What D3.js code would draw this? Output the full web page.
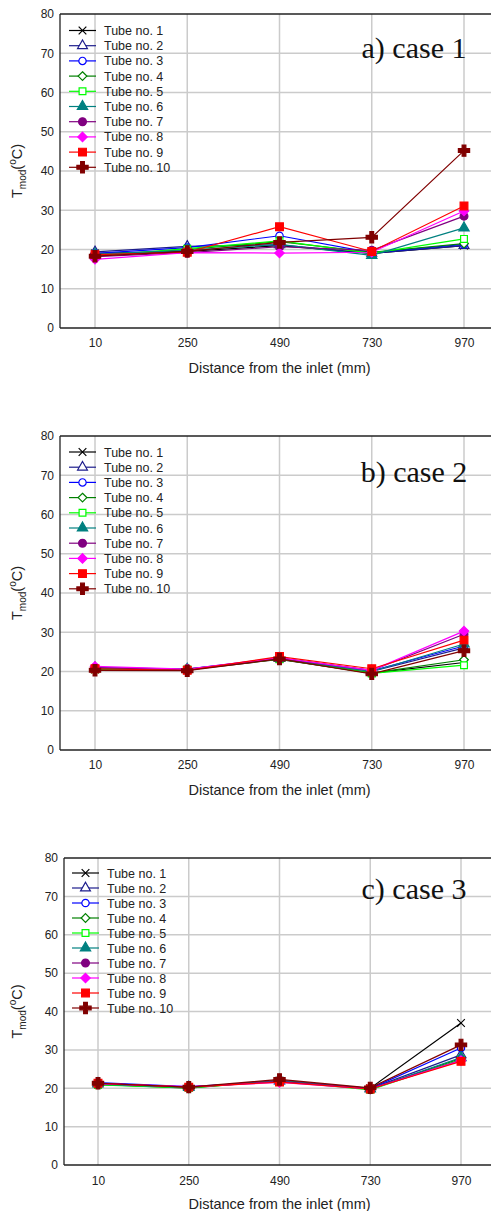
<!DOCTYPE html>
<html><head><meta charset="utf-8">
<script src="https://cdn.jsdelivr.net/npm/d3@7"></script>
<style>body{margin:0;background:#fff}svg{display:block}</style>
</head><body>
<svg id="c" width="491" height="1211"></svg>
<script>
const distances = [10, 250, 490, 730, 970];
const yTicks = [0, 10, 20, 30, 40, 50, 60, 70, 80];
const tubes = ["Tube no. 1","Tube no. 2","Tube no. 3","Tube no. 4","Tube no. 5","Tube no. 6","Tube no. 7","Tube no. 8","Tube no. 9","Tube no. 10"];
const caseTitles = ["a) case 1", "b) case 2", "c) case 3"];

const case1 = [
  [19.0, 19.5, 21.0, 19.0, 21.0],
  [19.4, 20.8, 21.2, 19.0, 21.0],
  [19.0, 20.5, 23.5, 19.2, 21.3],
  [18.5, 20.0, 22.0, 19.3, 21.5],
  [18.3, 20.2, 22.2, 19.0, 22.7],
  [18.8, 19.8, 21.3, 18.5, 25.5],
  [18.2, 19.2, 20.7, 19.8, 28.5],
  [17.5, 19.2, 19.1, 19.3, 29.8],
  [18.7, 19.3, 25.8, 19.5, 31.1],
  [18.3, 19.5, 21.8, 23.1, 45.2]
];
const case2 = [
  [20.5, 20.4, 23.1, 19.6, 22.3],
  [20.8, 20.5, 23.3, 20.0, 26.0],
  [21.0, 20.6, 23.4, 20.2, 26.5],
  [20.8, 20.6, 23.2, 19.6, 23.0],
  [20.6, 20.5, 23.2, 19.5, 21.6],
  [20.9, 20.6, 23.3, 20.0, 27.0],
  [21.0, 20.5, 23.4, 20.3, 29.5],
  [21.3, 20.6, 23.5, 20.3, 30.3],
  [20.7, 20.3, 23.8, 20.7, 28.0],
  [20.3, 20.2, 23.2, 19.4, 25.3]
];
const case3 = [
  [21.0, 20.2, 22.0, 20.0, 37.0],
  [21.3, 20.3, 21.9, 19.9, 28.7],
  [21.5, 20.4, 21.8, 19.9, 30.5],
  [21.0, 20.0, 22.0, 19.7, 27.8],
  [20.9, 20.1, 21.9, 19.6, 27.5],
  [21.1, 20.2, 22.0, 19.8, 28.0],
  [21.2, 20.3, 21.8, 19.9, 27.3],
  [21.2, 20.4, 21.5, 19.8, 27.2],
  [21.3, 20.3, 21.6, 19.8, 27.0],
  [21.3, 20.3, 22.3, 20.1, 31.3]
];
const cases = [case1, case2, case3];

// styles
const colors = ["#000000","#1c1c8c","#0000ff","#008000","#00ff00","#008080","#800080","#ff00ff","#ff0000","#800000"];
const diamond = d3.symbolDiamond2 || d3.symbolDiamond;
const timesSym = d3.symbolTimes || d3.symbolX || d3.symbolCross;
const markers = [
  {t: timesSym, s: 40, fill: false},
  {t: d3.symbolTriangle, s: 42, fill: false},
  {t: d3.symbolCircle, s: 42, fill: false},
  {t: diamond, s: 48, fill: false},
  {t: d3.symbolSquare, s: 46, fill: false},
  {t: d3.symbolTriangle, s: 46, fill: true},
  {t: d3.symbolCircle, s: 48, fill: true},
  {t: diamond, s: 56, fill: true},
  {t: d3.symbolSquare, s: 60, fill: true},
  {t: d3.symbolCross, s: 70, fill: true}
];

const panels = [
  {left: 60, top: 14, bottom: 328, x0: 95, x1: 464, legY: 30.5, legX: 69, legDy: 15.2, titleDy: 44, tickDy: 16, xtitleY: 373},
  {left: 60, top: 436, bottom: 750, x0: 95, x1: 464, legY: 452, legX: 69, legDy: 15.2, titleDy: 46, tickDy: 16, xtitleY: 795},
  {left: 64, top: 858, bottom: 1165, x0: 98, x1: 461, legY: 873, legX: 72, legDy: 15.0, titleDy: 41, tickDy: 17, xtitleY: 1209}
];
const svg = d3.select("#c");
const W = 491;
const font = "Liberation Sans, Arial, sans-serif";

panels.forEach((p, pi) => {
  const x = d3.scaleLinear().domain([distances[0], distances[distances.length-1]]).range([p.x0, p.x1]);
  const y = d3.scaleLinear().domain([0, 80]).range([p.bottom, p.top]);
  const g = svg.append("g");

  // grid
  g.selectAll(".gy").data(yTicks.filter(v => v > 0 && v < 80)).join("line")
    .attr("x1", p.left).attr("x2", W).attr("y1", d => y(d)).attr("y2", d => y(d))
    .attr("stroke", "#cbcbcb").attr("stroke-width", 1.5);
  g.selectAll(".gx").data(distances).join("line")
    .attr("x1", d => x(d)).attr("x2", d => x(d)).attr("y1", p.top).attr("y2", p.bottom)
    .attr("stroke", "#cbcbcb").attr("stroke-width", 1.5);

  // frame
  g.append("line").attr("x1", p.left).attr("x2", W).attr("y1", p.top).attr("y2", p.top).attr("stroke", "#222").attr("stroke-width", 1.3);
  g.append("line").attr("x1", p.left).attr("x2", W).attr("y1", p.bottom).attr("y2", p.bottom).attr("stroke", "#222").attr("stroke-width", 1.3);
  g.append("line").attr("x1", p.left).attr("x2", p.left).attr("y1", p.top).attr("y2", p.bottom).attr("stroke", "#222").attr("stroke-width", 1.3);

  // axes labels
  const ya = d3.axisLeft(y).tickValues(yTicks).tickSize(0).tickPadding(6);
  const yg = g.append("g").attr("transform", `translate(${p.left},0)`).call(ya);
  yg.select(".domain").remove();
  yg.selectAll("text").attr("font-family", font).attr("font-size", 12).attr("fill", "#222");
  const xa = d3.axisBottom(x).tickValues(distances).tickSize(0).tickPadding(p.tickDy - 6);
  const xg = g.append("g").attr("transform", `translate(0,${p.bottom})`).call(xa);
  xg.select(".domain").remove();
  xg.selectAll("text").attr("font-family", font).attr("font-size", 12).attr("fill", "#222");

  g.append("text").attr("x", (p.x0 + p.x1) / 2).attr("y", p.xtitleY)
    .attr("text-anchor", "middle").attr("font-family", font).attr("font-size", 14.5).attr("fill", "#222")
    .text("Distance from the inlet (mm)");

  const yl = g.append("text").attr("transform", `translate(22,${(p.top + p.bottom) / 2}) rotate(-90)`)
    .attr("text-anchor", "middle").attr("font-family", font).attr("font-size", 14.5).attr("fill", "#222");
  yl.append("tspan").text("T");
  yl.append("tspan").attr("font-size", 10).attr("dy", 4).text("mod");
  yl.append("tspan").attr("dy", -4).text("(");
  yl.append("tspan").attr("font-size", 10).attr("dy", -6).text("o");
  yl.append("tspan").attr("dy", 6).text("C)");

  // title
  g.append("text").attr("x", 414).attr("y", p.top + p.titleDy).attr("text-anchor", "middle")
    .attr("font-family", "Liberation Serif, Times New Roman, serif").attr("font-size", 30).attr("fill", "#111")
    .text(caseTitles[pi]);

  // series
  const line = d3.line().x((d, i) => x(distances[i])).y(d => y(d));
  cases[pi].forEach((vals, ti) => {
    const m = markers[ti];
    g.append("path").attr("d", line(vals)).attr("fill", "none").attr("stroke", colors[ti]).attr("stroke-width", 1.2);
    g.selectAll(null).data(vals).join("path")
      .attr("transform", (d, i) => `translate(${x(distances[i])},${y(d)})`)
      .attr("d", d3.symbol().type(m.t).size(m.s))
      .attr("fill", m.fill ? colors[ti] : (ti === 0 ? "none" : "#fff"))
      .attr("stroke", colors[ti]).attr("stroke-width", ti === 0 ? 1.1 : 1.2);
  });

  // legend
  const lg = g.append("g");
  tubes.forEach((name, ti) => {
    const m = markers[ti];
    const ly = p.legY + ti * p.legDy;
    lg.append("line").attr("x1", p.legX).attr("x2", p.legX + 27).attr("y1", ly).attr("y2", ly)
      .attr("stroke", colors[ti]).attr("stroke-width", 1.2);
    lg.append("path").attr("transform", `translate(${p.legX + 13.5},${ly})`)
      .attr("d", d3.symbol().type(m.t).size(m.s))
      .attr("fill", m.fill ? colors[ti] : (ti === 0 ? "none" : "#fff"))
      .attr("stroke", colors[ti]).attr("stroke-width", 1.2);
    lg.append("text").attr("x", p.legX + 35).attr("y", ly + 4.5)
      .attr("font-family", font).attr("font-size", 12.5).attr("fill", "#222").text(name);
  });
});
</script>
</body></html>
